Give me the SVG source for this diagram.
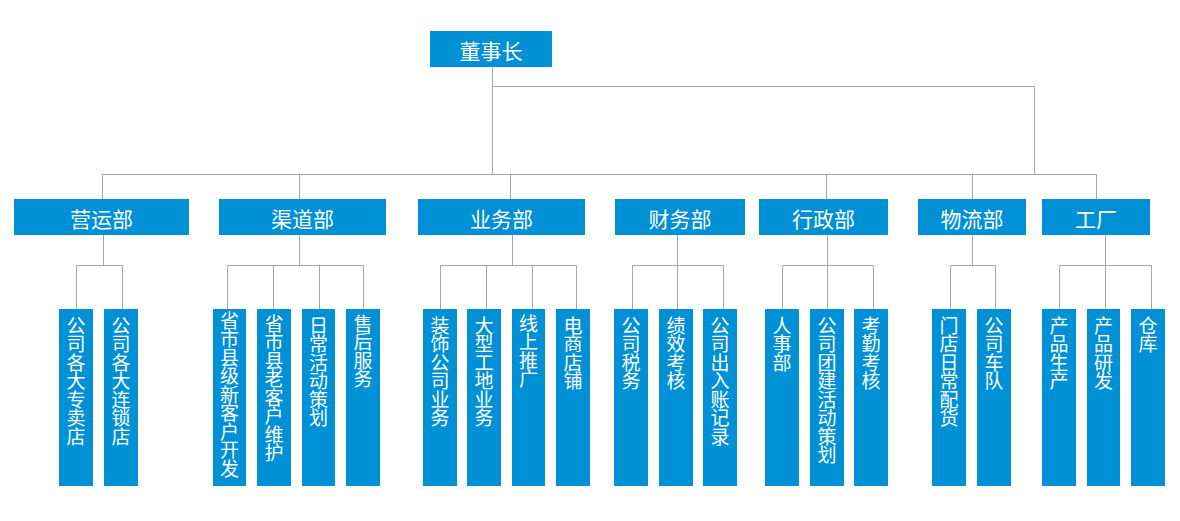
<svg xmlns="http://www.w3.org/2000/svg" width="1180" height="521" viewBox="0 0 1180 521">
<style>
.b{fill:#0090d6}
.t{fill:#ffffff;font-family:"Noto Sans CJK SC","Noto Sans",sans-serif;font-size:21px;text-anchor:middle;dominant-baseline:central}
.v{fill:#ffffff;font-family:"Noto Sans CJK SC","Noto Sans",sans-serif;font-size:19px;writing-mode:vertical-rl;letter-spacing:-0.5px}
.c{fill:none;stroke:#a6a6a6;stroke-width:1}
</style>
<rect width="1180" height="521" fill="#ffffff"/>
<g id="connectors" class="c">
<path d="M492.5 67V174.5M492.5 86.5H1034.5V174.5M102.5 174.5H1096.5"/>
<path d="M102.5 174.5V199M299.5 174.5V199M510.5 174.5V199M826.5 174.5V199M972.5 174.5V199M1096.5 174.5V199"/>
<path d="M103.5 235V265.5M76.5 265.5H122.5M76.5 265.5V309M122.5 265.5V309"/>
<path d="M299.5 235V265.5M227.5 265.5H363.5M227.5 265.5V309M273.5 265.5V309M319.5 265.5V309M363.5 265.5V309"/>
<path d="M512.5 235V265.5M440.5 265.5H576.5M440.5 265.5V309M486.5 265.5V309M532.5 265.5V309M576.5 265.5V309"/>
<path d="M677.5 235V265.5M632.5 265.5H723.5M632.5 265.5V309M677.5 265.5V309M723.5 265.5V309"/>
<path d="M827.5 235V265.5M782.5 265.5H873.5M782.5 265.5V309M827.5 265.5V309M873.5 265.5V309"/>
<path d="M972.5 235V265.5M950.5 265.5H995.5M950.5 265.5V309M995.5 265.5V309"/>
<path d="M1105.5 235V265.5M1059.5 265.5H1151.5M1059.5 265.5V309M1105.5 265.5V309M1151.5 265.5V309"/>
</g>
<g id="n-chairman"><rect class="b" x="430" y="31" width="122" height="36"/><text class="t" x="491" y="49.5">董事长</text></g>
<g id="n-yunying"><rect class="b" x="14" y="199" width="175" height="36"/><text class="t" x="101.5" y="217.5">营运部</text></g>
<g id="n-qudao"><rect class="b" x="219" y="199" width="167" height="36"/><text class="t" x="302.5" y="217.5">渠道部</text></g>
<g id="n-yewu"><rect class="b" x="418" y="199" width="167" height="36"/><text class="t" x="501.5" y="217.5">业务部</text></g>
<g id="n-caiwu"><rect class="b" x="615" y="199" width="130" height="36"/><text class="t" x="680" y="217.5">财务部</text></g>
<g id="n-xingzheng"><rect class="b" x="759" y="199" width="129" height="36"/><text class="t" x="823.5" y="217.5">行政部</text></g>
<g id="n-wuliu"><rect class="b" x="918" y="199" width="108" height="36"/><text class="t" x="972" y="217.5">物流部</text></g>
<g id="n-gongchang"><rect class="b" x="1042" y="199" width="108" height="36"/><text class="t" x="1096" y="217.5">工厂</text></g>
<g id="n-c1"><rect class="b" x="59" y="309" width="34" height="177"/><text class="v" x="76" y="316">公司各大专卖店</text></g>
<g id="n-c2"><rect class="b" x="104" y="309" width="34" height="177"/><text class="v" x="121" y="316">公司各大连锁店</text></g>
<g id="n-c3"><rect class="b" x="213" y="309" width="33" height="177"/><text class="v" x="229.5" y="311">省市县级新客户开发</text></g>
<g id="n-c4"><rect class="b" x="257" y="309" width="34" height="177"/><text class="v" x="274" y="314">省市县老客户维护</text></g>
<g id="n-c5"><rect class="b" x="302" y="309" width="33" height="177"/><text class="v" x="318.5" y="316">日常活动策划</text></g>
<g id="n-c6"><rect class="b" x="346" y="309" width="34" height="177"/><text class="v" x="363" y="314">售后服务</text></g>
<g id="n-c7"><rect class="b" x="423" y="309" width="34" height="177"/><text class="v" x="440" y="316">装饰公司业务</text></g>
<g id="n-c8"><rect class="b" x="467" y="309" width="34" height="177"/><text class="v" x="484" y="316">大型工地业务</text></g>
<g id="n-c9"><rect class="b" x="512" y="309" width="33" height="177"/><text class="v" x="528.5" y="314">线上推广</text></g>
<g id="n-c10"><rect class="b" x="556" y="309" width="34" height="177"/><text class="v" x="573" y="316">电商店铺</text></g>
<g id="n-c11"><rect class="b" x="614" y="309" width="34" height="177"/><text class="v" x="631" y="316">公司税务</text></g>
<g id="n-c12"><rect class="b" x="659" y="309" width="34" height="177"/><text class="v" x="676" y="316">绩效考核</text></g>
<g id="n-c13"><rect class="b" x="703" y="309" width="34" height="177"/><text class="v" x="720" y="316">公司出入账记录</text></g>
<g id="n-c14"><rect class="b" x="765" y="309" width="34" height="177"/><text class="v" x="782" y="316">人事部</text></g>
<g id="n-c15"><rect class="b" x="810" y="309" width="34" height="177"/><text class="v" x="827" y="316">公司团建活动策划</text></g>
<g id="n-c16"><rect class="b" x="854" y="309" width="34" height="177"/><text class="v" x="871" y="316">考勤考核</text></g>
<g id="n-c17"><rect class="b" x="932" y="309" width="34" height="177"/><text class="v" x="949" y="316">门店日常配货</text></g>
<g id="n-c18"><rect class="b" x="977" y="309" width="34" height="177"/><text class="v" x="994" y="316">公司车队</text></g>
<g id="n-c19"><rect class="b" x="1042" y="309" width="34" height="177"/><text class="v" x="1059" y="316">产品生产</text></g>
<g id="n-c20"><rect class="b" x="1087" y="309" width="33" height="177"/><text class="v" x="1103.5" y="316">产品研发</text></g>
<g id="n-c21"><rect class="b" x="1131" y="309" width="34" height="177"/><text class="v" x="1148" y="316">仓库</text></g>
</svg>
